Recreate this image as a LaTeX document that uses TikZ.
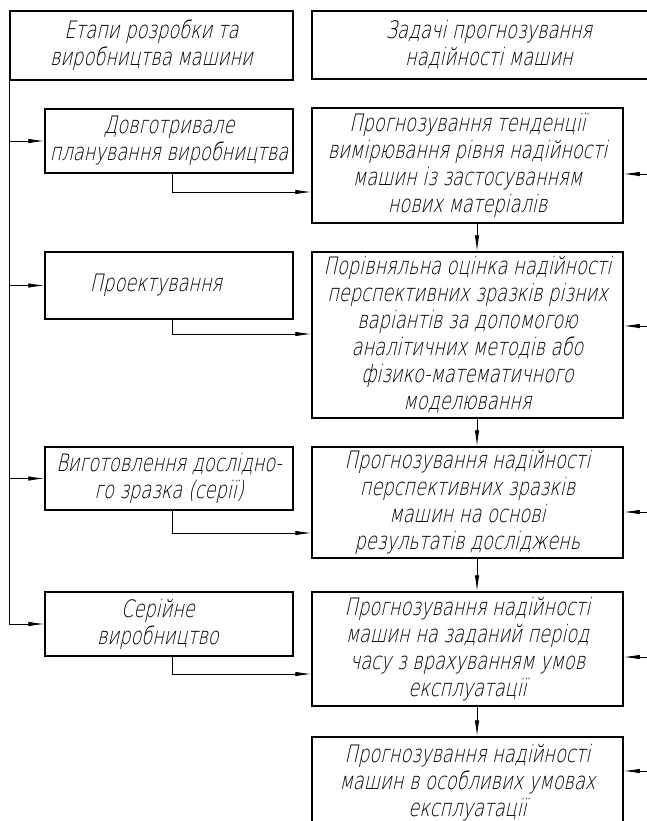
\documentclass[tikz,border=0pt]{standalone}
\usepackage{fontspec}
\setmainfont{DejaVu Sans ExtraLight}[FakeSlant=0.22, FakeStretch=0.74]
\usetikzlibrary{arrows.meta}
\tikzset{every picture/.style={line width=0.8pt}}

\begin{document}
\begin{tikzpicture}[x=1pt, y=-1pt, >={Latex[length=16pt,width=4.5pt]},
    every node/.style={font=\fontsize{24}{27}\selectfont, align=center, inner sep=0pt},
    box/.style={draw, line width=1.5pt}]
        \clip (0,0) rectangle (647,821);
        % headers
        \node[box, minimum width=283pt, minimum height=69pt] (headL) at (151.5,45.5) {Етапи розробки та\\виробництва машини};
        \node[box, minimum width=354pt, minimum height=68pt] (headR) at (489,45) {Задачі прогнозування\\надійності машин};
        % stages
        \node[box, minimum width=248pt, minimum height=64pt] (stage1) at (169,141)   {Довготривале\\планування виробництва};
        \node[box, minimum width=248pt, minimum height=67pt] (stage2) at (169,285.5) {\hspace*{-26pt}Проектування};
        \node[box, minimum width=248pt, minimum height=63pt] (stage3) at (169,478.5) {Виготовлення дослідно-\\го зразка (серії)};
        \node[box, minimum width=248pt, minimum height=64pt] (stage4) at (169,624)   {\hspace*{-22pt}Серійне\\\hspace*{-22pt}виробництво};
        % tasks
        \node[box, minimum width=311pt, minimum height=115pt] (task1) at (467.5,165.5) {Прогнозування тенденції\\вимірювання рівня надійності\\машин із застосуванням\\нових матеріалів};
        \node[box, minimum width=311pt, minimum height=166pt] (task2) at (467.5,335)   {Порівняльна оцінка надійності\\перспективних зразків різних\\варіантів за допомогою\\аналітичних методів або\\фізико-математичного\\моделювання};
        \node[box, minimum width=311pt, minimum height=111pt] (task3) at (467.5,502.5) {Прогнозування надійності\\перспективних зразків\\машин на основі\\результатів досліджень};
        \node[box, minimum width=311pt, minimum height=114pt] (task4) at (467.5,649)   {Прогнозування надійності\\машин на заданий період\\часу з врахуванням умов\\експлуатації};
        \node[box, minimum width=311pt, minimum height=92pt]  (task5) at (467.5,783)   {Прогнозування надійності\\машин в особливих умовах\\експлуатації};
        % spine and stage inputs
        \draw[->] (headL.south west) |- (stage4.west);
        \draw[->] (headL.south west |- stage1.west) -- (stage1.west);
        \draw[->] (headL.south west |- stage2.west) -- (stage2.west);
        \draw[->] (headL.south west |- stage3.west) -- (stage3.west);
        % stages to tasks
        \draw[->] ([xshift=3pt]stage1.south) |- ([yshift=-26.5pt]task1.west);
        \draw[->] ([xshift=3pt]stage2.south) |- ([yshift=1pt]task2.west);
        \draw[->] ([xshift=3pt]stage3.south) |- ([yshift=-30.5pt]task3.west);
        \draw[->] ([xshift=3pt]stage4.south) |- ([yshift=-25pt]task4.west);
        % task chain
        \draw[->] ([xshift=9.5pt]task1.south) -- ([xshift=9.5pt]task2.north);
        \draw[->] ([xshift=9.5pt]task2.south) -- ([xshift=9.5pt]task3.north);
        \draw[->] ([xshift=9.5pt]task3.south) -- ([xshift=9.5pt]task4.north);
        \draw[->] ([xshift=9.5pt]task4.south) -- ([xshift=9.5pt]task5.north);
        % inputs from the right
        \coordinate (in1) at (647,174);
        \coordinate (in2) at (647,326);
        \coordinate (in3) at (647,512);
        \coordinate (in4) at (647,657);
        \coordinate (in5) at (647,771);
        \draw[->] (in1) -- (task1.east |- in1);
        \draw[->] (in2) -- (task2.east |- in2);
        \draw[->] (in3) -- (task3.east |- in3);
        \draw[->] (in4) -- (task4.east |- in4);
        \draw[->] (in5) -- (task5.east |- in5);
    \end{tikzpicture}
\end{document}
